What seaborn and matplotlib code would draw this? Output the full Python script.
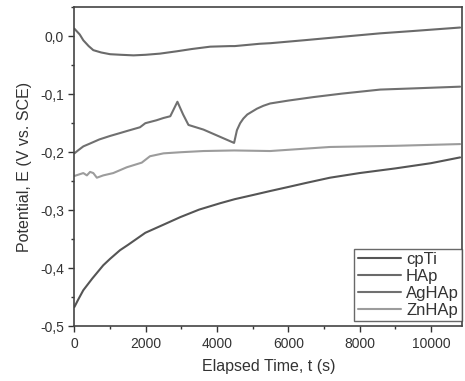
import numpy as np
import pandas as pd
import matplotlib
matplotlib.use("Agg")
import matplotlib.pyplot as plt
from matplotlib.ticker import MultipleLocator, FuncFormatter
import seaborn as sns

# ---- data ----
series_names = ["cpTi", "HAp", "AgHAp", "ZnHAp"]

cpti_t = [0, 100, 250, 500, 810, 1000, 1280, 1500, 1990, 2500, 2970, 3500, 4090, 4500, 5000,
          5490, 6000, 6500, 7170, 8000, 9000, 10000, 10820]
cpti_v = [-0.467, -0.455, -0.438, -0.418, -0.395, -0.384, -0.369, -0.360, -0.339, -0.325,
          -0.312, -0.299, -0.288, -0.281, -0.274, -0.267, -0.260, -0.253, -0.244, -0.236,
          -0.228, -0.219, -0.209]

hap_t = [0, 150, 250, 400, 530, 750, 1000, 1300, 1660, 2000, 2400, 2870, 3300, 3810, 4370,
         4500, 5200, 5500, 6430, 7500, 8580, 9500, 10820]
hap_v = [0.013, 0.003, -0.007, -0.017, -0.024, -0.028, -0.031, -0.032, -0.033, -0.032, -0.030,
         -0.026, -0.022, -0.018, -0.017, -0.017, -0.013, -0.012, -0.007, -0.001, 0.005, 0.009, 0.015]

aghap_t = [0, 100, 250, 440, 700, 1000, 1280, 1500, 1840, 1990, 2300, 2500, 2690, 2890, 3050,
           3200, 3620, 4480, 4560, 4650, 4740, 4850, 5120, 5300, 5490, 6000, 6700, 7500, 8580,
           9500, 10820]
aghap_v = [-0.202, -0.197, -0.190, -0.185, -0.178, -0.172, -0.167, -0.163, -0.157, -0.150,
           -0.145, -0.141, -0.138, -0.113, -0.135, -0.153, -0.161, -0.184, -0.162, -0.150,
           -0.142, -0.135, -0.125, -0.120, -0.116, -0.111, -0.105, -0.099, -0.092, -0.090, -0.087]

znhap_t = [0, 250, 350, 440, 530, 630, 810, 1090, 1470, 1890, 2120, 2500, 3000, 3620, 4480,
           5490, 7170, 9000, 10820]
znhap_v = [-0.241, -0.236, -0.240, -0.234, -0.236, -0.244, -0.240, -0.236, -0.226, -0.218,
           -0.207, -0.202, -0.200, -0.198, -0.197, -0.198, -0.191, -0.189, -0.186]

x_ticks = [0, 2000, 4000, 6000, 8000, 10000]
y_ticks = [-0.5, -0.4, -0.3, -0.2, -0.1, 0.0]

# ---- long-form table ----
frames = []
for name, t, v in zip(series_names,
                      [cpti_t, hap_t, aghap_t, znhap_t],
                      [cpti_v, hap_v, aghap_v, znhap_v]):
    frames.append(pd.DataFrame({"t": t, "E": v, "series": name}))
df = pd.concat(frames, ignore_index=True)

sns.set_style("ticks")
plt.rcParams["font.family"] = ["Liberation Sans", "DejaVu Sans"]

palette = {"cpTi": "#555555", "HAp": "#6a6a6a", "AgHAp": "#707070", "ZnHAp": "#9c9c9c"}

fig = plt.figure(figsize=(4.65, 3.81), dpi=100)
ax = fig.add_axes([0.160, 0.144, 0.834, 0.837])

sns.lineplot(data=df, x="t", y="E", hue="series", hue_order=series_names,
             palette=palette, estimator=None, sort=False, linewidth=1.5, ax=ax)

ax.set_xlim(0, 10880)
ax.set_ylim(-0.5, 0.05)
ax.set_xticks(x_ticks)
ax.set_yticks(y_ticks)
ax.xaxis.set_minor_locator(MultipleLocator(1000))
ax.yaxis.set_minor_locator(MultipleLocator(0.05))

def comma_fmt(v, pos):
    if abs(v) < 1e-9:
        v = 0.0
    return f"{v:.1f}".replace(".", ",")

ax.yaxis.set_major_formatter(FuncFormatter(comma_fmt))
ax.tick_params(axis="both", which="major", direction="out", length=4, width=1,
               labelsize=10, colors="#333333", labelcolor="#333333")
ax.tick_params(axis="both", which="minor", direction="out", length=2, width=1, colors="#333333")

for s in ax.spines.values():
    s.set_color("#444444")
    s.set_linewidth(1.2)

ax.set_xlabel("Elapsed Time, t (s)", fontsize=11.5, color="#333333", labelpad=6)
ax.set_ylabel("Potential, E (V vs. SCE)", fontsize=11.5, color="#333333", labelpad=6)

leg = ax.legend(loc="lower right", bbox_to_anchor=(1.0, 0.015), fontsize=12,
                frameon=True, fancybox=False, edgecolor="#444444", handlelength=2.6,
                handletextpad=0.3, borderpad=0.2, labelspacing=0.12, borderaxespad=0.0)
leg.get_frame().set_linewidth(1.0)
for txt in leg.get_texts():
    txt.set_color("#333333")

fig.savefig("out.png", dpi=100)
